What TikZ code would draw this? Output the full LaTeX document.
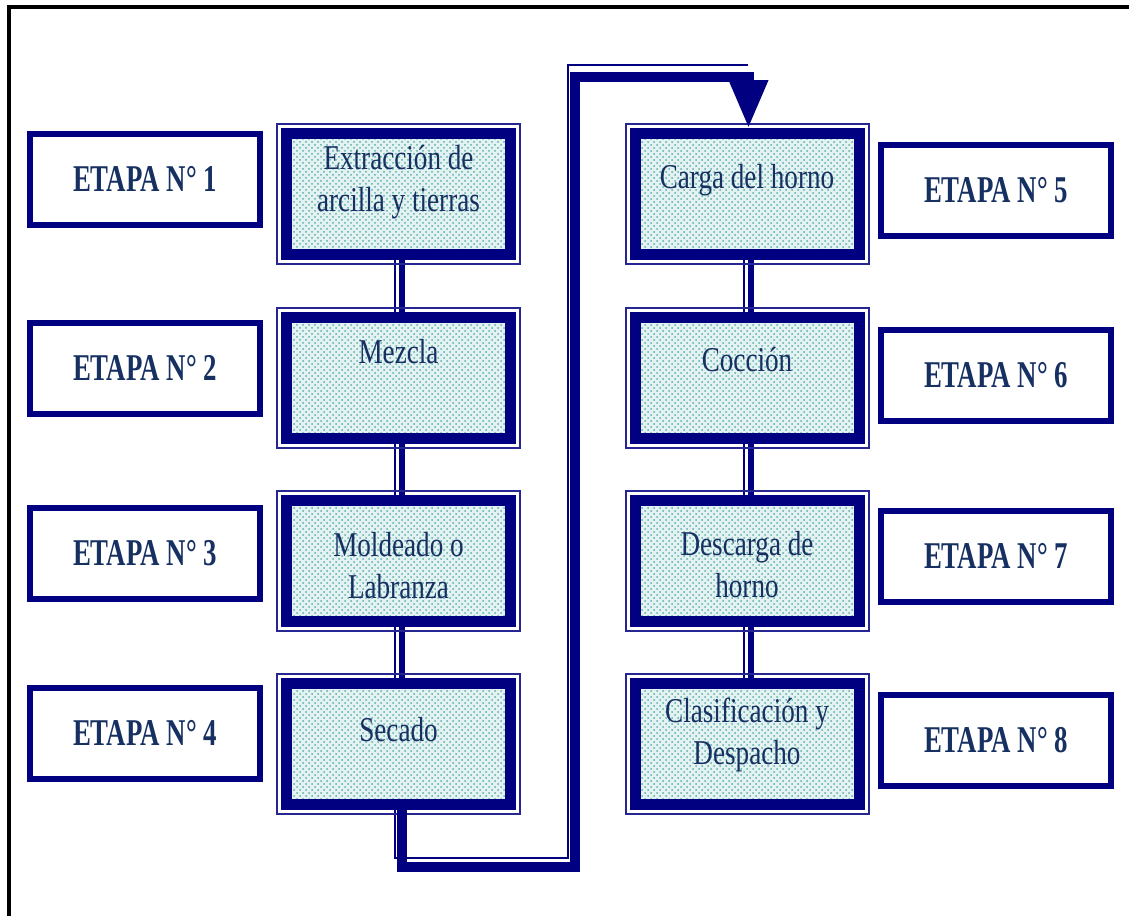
\documentclass[tikz,border=0pt]{standalone}
\usepackage{fontspec}
\usepackage{xcolor}
\usetikzlibrary{arrows.meta,patterns,backgrounds}
\newfontfamily\stagefont[FakeStretch=0.78]{Liberation Serif}
\newfontfamily\etapafont[FakeStretch=0.71]{Liberation Serif}
\definecolor{frameNavy}{RGB}{0,0,128}
\definecolor{textNavy}{RGB}{22,48,98}
\definecolor{hatchTeal}{RGB}{70,165,165}

\begin{document}
\begin{tikzpicture}[x=0.5pt, y=-0.5pt,
    stage/.style={rectangle, draw=frameNavy, line width=5.5pt, preaction={fill=hatchTeal!14}, pattern=crosshatch dots, pattern color=hatchTeal!90, minimum width=112pt, minimum height=60.5pt, inner sep=0pt},
    stageouter/.style={draw=frameNavy!85, line width=1pt},
    stagetext/.style={align=center, text=textNavy, inner sep=0pt, font=\stagefont\fontsize{17.4}{21}\selectfont},
    etapa/.style={rectangle, draw=frameNavy, line width=3pt, fill=white, minimum width=115pt, minimum height=45.5pt, text=textNavy, font=\etapafont\bfseries\fontsize{18.9}{22}\selectfont},
    flowthick/.style={draw=frameNavy, line width=3pt},
    flowthin/.style={draw=frameNavy, line width=1pt},
    routethick/.style={draw=frameNavy, line width=5pt}]
    \useasboundingbox (0,0) rectangle (1129,916);

    % Page frame
    \draw[line width=2pt] (9,916) -- (9,7) -- (1129,7);

    % Stage labels
    \node[etapa] (e1) at (145,179) {ETAPA N° 1};
    \node[etapa] (e2) at (145,368) {ETAPA N° 2};
    \node[etapa] (e3) at (145,553) {ETAPA N° 3};
    \node[etapa] (e4) at (145,733) {ETAPA N° 4};
    \node[etapa] (e5) at (996,190) {ETAPA N° 5};
    \node[etapa] (e6) at (996,375) {ETAPA N° 6};
    \node[etapa] (e7) at (996,556) {ETAPA N° 7};
    \node[etapa] (e8) at (996,740) {ETAPA N° 8};

    % Process boxes
    \node[stage] (m1) at (398.5,194) {};
    \node[stage] (m2) at (398.5,377.5) {};
    \node[stage] (m3) at (398.5,560.5) {};
    \node[stage] (m4) at (398.5,744) {};
    \node[stage] (m5) at (747,194) {};
    \node[stage] (m6) at (747,377.5) {};
    \node[stage] (m7) at (747,560.5) {};
    \node[stage] (m8) at (747,744) {};

    \draw[stageouter] ([shift={(-2pt,2pt)}]m1.north west) rectangle ([shift={(2pt,-2pt)}]m1.south east);
    \draw[stageouter] ([shift={(-2pt,2pt)}]m2.north west) rectangle ([shift={(2pt,-2pt)}]m2.south east);
    \draw[stageouter] ([shift={(-2pt,2pt)}]m3.north west) rectangle ([shift={(2pt,-2pt)}]m3.south east);
    \draw[stageouter] ([shift={(-2pt,2pt)}]m4.north west) rectangle ([shift={(2pt,-2pt)}]m4.south east);
    \draw[stageouter] ([shift={(-2pt,2pt)}]m5.north west) rectangle ([shift={(2pt,-2pt)}]m5.south east);
    \draw[stageouter] ([shift={(-2pt,2pt)}]m6.north west) rectangle ([shift={(2pt,-2pt)}]m6.south east);
    \draw[stageouter] ([shift={(-2pt,2pt)}]m7.north west) rectangle ([shift={(2pt,-2pt)}]m7.south east);
    \draw[stageouter] ([shift={(-2pt,2pt)}]m8.north west) rectangle ([shift={(2pt,-2pt)}]m8.south east);

    \node[stagetext] (t1) at (398.5,182) {Extracción de\\arcilla y tierras};
    \node[stagetext] (t2) at (398.5,352) {Mezcla};
    \node[stagetext] (t3) at (398.5,566) {Moldeado o\\Labranza};
    \node[stagetext] (t4) at (398.5,730) {Secado};
    \node[stagetext] (t5) at (747,180) {Carga del horno};
    \node[stagetext] (t6) at (747,360) {Cocción};
    \node[stagetext] (t7) at (747,565) {Descarga de\\horno};
    \node[stagetext] (t8) at (747,735) {Clasificación y\\Despacho};

    % Connectors
    \coordinate (bendLow) at (575,867);
    \coordinate (bendHigh) at (575,77);
    \coordinate (thinLow) at (568,858);
    \coordinate (thinHigh) at (568,65);
    \coordinate (thinEnd) at (748,65);

    \begin{scope}[on background layer]
        \draw[flowthick] ([xshift=1.75pt]m1.south) -- ([xshift=1.75pt]m2.north);
        \draw[flowthin] ([xshift=-1.75pt]m1.south) -- ([xshift=-1.75pt]m2.north);
        \draw[flowthick] ([xshift=1.75pt]m2.south) -- ([xshift=1.75pt]m3.north);
        \draw[flowthin] ([xshift=-1.75pt]m2.south) -- ([xshift=-1.75pt]m3.north);
        \draw[flowthick] ([xshift=1.75pt]m3.south) -- ([xshift=1.75pt]m4.north);
        \draw[flowthin] ([xshift=-1.75pt]m3.south) -- ([xshift=-1.75pt]m4.north);
        \draw[flowthick] ([xshift=1.75pt]m5.south) -- ([xshift=1.75pt]m6.north);
        \draw[flowthin] ([xshift=-1.75pt]m5.south) -- ([xshift=-1.75pt]m6.north);
        \draw[flowthick] ([xshift=1.75pt]m6.south) -- ([xshift=1.75pt]m7.north);
        \draw[flowthin] ([xshift=-1.75pt]m6.south) -- ([xshift=-1.75pt]m7.north);
        \draw[flowthick] ([xshift=1.75pt]m7.south) -- ([xshift=1.75pt]m8.north);
        \draw[flowthin] ([xshift=-1.75pt]m7.south) -- ([xshift=-1.75pt]m8.north);
        \draw[flowthin] ([xshift=-1.75pt]m4.south) |- (thinLow) -- (thinHigh) -- (thinEnd);
    \end{scope}
    \draw[routethick, -{Triangle[width=18.5pt,length=24pt]}] ([xshift=1.75pt]m4.south) |- (bendLow) -- (bendHigh) -| ([xshift=0.75pt]m5.north);
\end{tikzpicture}
\end{document}
